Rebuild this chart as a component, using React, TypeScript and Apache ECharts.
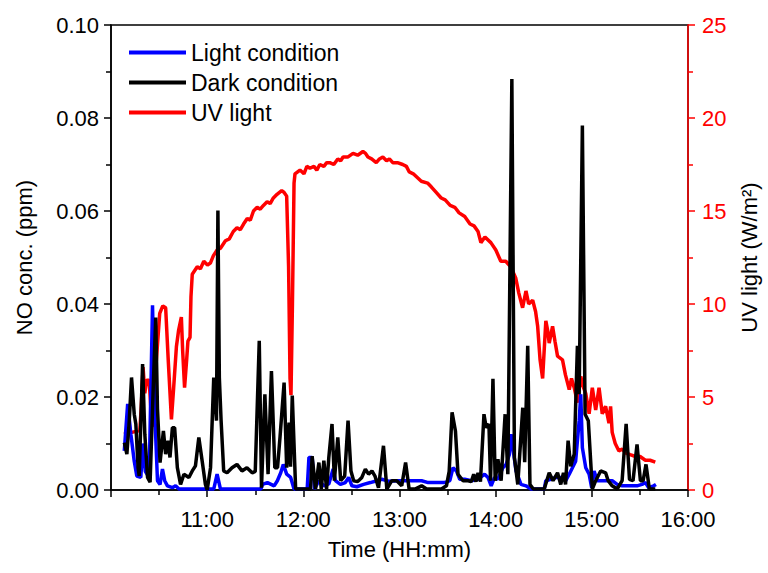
import React, { useEffect, useRef } from "react";
import * as echarts from "echarts";

// Time is given in minutes after 10:00
const uvTime = [8.1, 13.0, 18.0, 18.9, 20.0, 21.1, 22.2, 23.8, 24.8, 26.2, 27.9, 30.4, 32.3, 34.1, 35.7, 37.7, 39.1, 40.8, 42.2, 43.9, 44.7, 45.9, 47.2, 48.0, 49.3, 49.9, 50.7, 53.8, 55.8, 57.9, 60.2, 62.0, 63.9, 66.2, 68.3, 71.4, 73.8, 76.3, 78.6, 80.7, 82.7, 85.0, 86.9, 88.9, 91.2, 93.1, 95.1, 97.4, 99.3, 101.3, 103.6, 106.5, 108.0, 109.6, 110.8, 111.7, 112.3, 113.2, 114.2, 114.8, 117.9, 120.4, 122.2, 124.1, 126.6, 128.4, 130.3, 132.8, 134.6, 136.5, 139.0, 141.5, 143.3, 144.8, 147.7, 151.0, 153.9, 157.2, 158.8, 160.3, 162.6, 165.5, 167.5, 169.6, 171.9, 173.7, 175.8, 178.7, 182.0, 184.3, 186.1, 188.6, 191.1, 193.6, 197.5, 199.8, 202.9, 206.0, 208.5, 211.6, 214.5, 217.2, 220.7, 224.0, 226.5, 229.0, 230.8, 233.3, 237.0, 240.1, 243.2, 246.3, 249.4, 252.5, 254.4, 256.8, 258.9, 260.6, 263.1, 264.9, 266.2, 267.7, 269.3, 271.3, 272.4, 273.4, 275.5, 277.0, 278.6, 281.7, 283.5, 285.9, 287.3, 289.0, 291.0, 293.1, 294.8, 296.2, 298.3, 300.3, 302.4, 304.5, 306.5, 308.6, 310.7, 311.7, 312.7, 314.6, 316.9, 318.9, 321.0, 323.9, 327.2, 330.1, 333.4, 336.3, 339.6];
const uvValue = [3.0, 3.1, 3.2, 4.5, 6.6, 5.2, 5.9, 5.9, 4.5, 3.4, 6.5, 9.5, 9.9, 9.8, 7.0, 3.8, 5.5, 7.7, 8.6, 9.3, 7.5, 5.5, 7.0, 8.0, 8.2, 10.4, 11.6, 12.0, 11.9, 12.3, 12.1, 12.2, 12.6, 12.9, 13.0, 13.4, 13.5, 13.9, 14.1, 14.0, 14.3, 14.6, 14.5, 15.0, 15.2, 15.1, 15.3, 15.5, 15.4, 15.7, 15.9, 16.1, 16.0, 15.8, 12.0, 6.0, 5.1, 10.0, 16.5, 17.0, 17.2, 17.0, 17.4, 17.3, 17.4, 17.2, 17.5, 17.4, 17.6, 17.6, 17.5, 17.8, 17.7, 17.9, 17.9, 18.1, 18.0, 18.2, 18.1, 17.9, 17.8, 17.6, 17.8, 17.9, 17.7, 17.8, 17.6, 17.6, 17.5, 17.4, 17.1, 17.0, 16.8, 16.6, 16.5, 16.3, 16.0, 15.7, 15.6, 15.3, 15.2, 14.9, 14.7, 14.3, 14.2, 13.9, 13.3, 13.6, 13.3, 12.9, 12.3, 12.3, 12.0, 11.4, 10.6, 9.8, 10.7, 10.0, 10.2, 9.6, 8.8, 7.0, 6.0, 9.1, 8.6, 7.9, 8.8, 8.0, 7.2, 7.0, 6.2, 5.4, 6.0, 5.5, 4.7, 6.1, 5.5, 5.2, 4.1, 5.5, 4.3, 5.5, 4.1, 4.5, 3.6, 4.5, 3.1, 2.5, 2.1, 2.2, 2.0, 1.9, 1.8, 1.8, 1.6, 1.6, 1.5];

const darkTime = [8.3, 9.9, 11.4, 12.8, 14.5, 15.5, 16.9, 17.6, 19.7, 21.1, 22.8, 24.4, 26.5, 27.9, 29.0, 30.6, 32.7, 34.1, 35.6, 36.8, 38.3, 39.7, 41.4, 43.4, 45.5, 48.6, 50.7, 52.7, 54.8, 56.9, 58.9, 60.0, 62.1, 64.1, 65.8, 66.7, 67.6, 68.7, 70.3, 72.4, 75.5, 78.6, 81.7, 84.8, 88.1, 90.0, 92.5, 93.9, 96.0, 98.0, 100.1, 102.2, 103.9, 105.5, 108.0, 109.6, 111.1, 112.0, 113.1, 115.2, 124.5, 125.5, 127.6, 129.7, 131.2, 132.8, 134.5, 135.9, 137.9, 139.4, 141.5, 143.3, 145.8, 147.9, 149.7, 151.4, 153.9, 156.5, 158.7, 160.7, 162.8, 164.7, 166.9, 170.0, 172.1, 175.2, 178.3, 181.4, 183.8, 186.0, 189.7, 193.8, 196.9, 206.2, 209.3, 211.0, 212.8, 214.9, 216.5, 219.6, 222.8, 224.8, 226.3, 227.7, 229.0, 230.5, 232.7, 234.1, 235.8, 236.8, 238.3, 239.7, 241.4, 243.4, 245.9, 247.6, 250.1, 251.7, 253.8, 256.9, 258.1, 260.0, 261.4, 263.5, 270.3, 273.4, 275.8, 278.6, 280.6, 282.3, 283.6, 285.2, 286.8, 289.0, 291.0, 292.1, 294.1, 295.8, 297.8, 300.3, 302.4, 305.5, 308.6, 310.2, 312.7, 315.8, 318.9, 321.4, 323.5, 325.7, 328.2, 330.3, 332.0, 333.8, 335.9, 339.6];
const darkNO = [0.0102, 0.0077, 0.0149, 0.0242, 0.0163, 0.0142, 0.0048, 0.003, 0.0271, 0.012, 0.0027, 0.0017, 0.0235, 0.0371, 0.0174, 0.0059, 0.0127, 0.0077, 0.0106, 0.007, 0.0134, 0.0134, 0.0048, 0.0012, 0.0034, 0.0027, 0.0041, 0.0052, 0.0113, 0.0062, 0.0012, 0.0, 0.0048, 0.0242, 0.0149, 0.0601, 0.0242, 0.0149, 0.0041, 0.0037, 0.0048, 0.0055, 0.0041, 0.0048, 0.0037, 0.004, 0.0321, 0.0005, 0.0206, 0.0034, 0.0256, 0.0048, 0.0048, 0.0116, 0.0231, 0.0048, 0.0145, 0.005, 0.0203, 0.0002, 0.0002, 0.0073, 0.0002, 0.0059, 0.0002, 0.0063, 0.0002, 0.007, 0.0142, 0.002, 0.0113, 0.002, 0.003, 0.0149, 0.0041, 0.002, 0.0018, 0.0027, 0.0045, 0.0034, 0.0041, 0.003, 0.0005, 0.0095, 0.0002, 0.002, 0.002, 0.0009, 0.0059, 0.0002, 0.0002, 0.0009, 0.0002, 0.0002, 0.0009, 0.004, 0.0167, 0.0127, 0.0034, 0.002, 0.002, 0.0018, 0.0034, 0.0018, 0.0037, 0.0018, 0.0163, 0.0134, 0.0142, 0.002, 0.0239, 0.002, 0.0066, 0.002, 0.0163, 0.0034, 0.0884, 0.007, 0.0012, 0.0177, 0.006, 0.031, 0.0012, 0.0002, 0.0002, 0.0037, 0.002, 0.0037, 0.0012, 0.0037, 0.0012, 0.0106, 0.0051, 0.0077, 0.031, 0.0206, 0.0784, 0.0163, 0.0149, 0.0002, 0.002, 0.0041, 0.0037, 0.002, 0.0009, 0.0002, 0.002, 0.0142, 0.0023, 0.002, 0.0098, 0.002, 0.002, 0.0055, 0.0002, 0.0002];

const lightTime = [8.3, 10.4, 12.4, 14.5, 16.1, 18.6, 19.9, 21.4, 23.8, 25.9, 27.5, 29.0, 30.6, 32.1, 33.5, 35.2, 38.3, 40.3, 42.4, 64.1, 66.2, 68.3, 93.5, 94.5, 97.6, 101.8, 103.8, 105.9, 107.5, 109.6, 112.1, 114.2, 122.4, 123.5, 125.5, 127.0, 129.7, 132.8, 135.9, 138.6, 140.0, 143.1, 146.2, 148.3, 150.3, 153.4, 157.6, 161.8, 165.9, 169.0, 173.1, 179.3, 187.6, 193.8, 197.9, 208.3, 211.4, 213.4, 215.5, 217.6, 220.7, 224.8, 229.0, 233.1, 235.2, 237.2, 239.3, 241.4, 244.5, 246.5, 248.6, 249.6, 251.3, 252.7, 255.8, 258.9, 262.0, 270.3, 271.3, 274.4, 277.5, 281.7, 283.7, 285.9, 287.9, 289.9, 292.1, 293.1, 294.1, 296.2, 298.3, 299.9, 301.4, 303.4, 309.6, 312.7, 315.8, 318.9, 325.1, 328.2, 331.3, 333.4, 335.5, 338.6, 340.0];
const lightNO = [0.0084, 0.0185, 0.012, 0.0062, 0.003, 0.0027, 0.01, 0.004, 0.0027, 0.0397, 0.0149, 0.002, 0.0012, 0.0045, 0.002, 0.0009, 0.0005, 0.0009, 0.0002, 0.0002, 0.0034, 0.0002, 0.0002, 0.0012, 0.0016, 0.0009, 0.002, 0.0037, 0.0055, 0.0034, 0.0027, 0.0002, 0.0002, 0.007, 0.007, 0.0002, 0.002, 0.0009, 0.0013, 0.0045, 0.002, 0.0012, 0.0016, 0.0027, 0.0009, 0.0007, 0.0012, 0.0016, 0.002, 0.0023, 0.0019, 0.002, 0.002, 0.002, 0.0016, 0.0016, 0.002, 0.0048, 0.0041, 0.0023, 0.0023, 0.002, 0.0023, 0.0034, 0.0027, 0.0009, 0.0027, 0.0023, 0.0048, 0.0055, 0.0077, 0.012, 0.0077, 0.0041, 0.0012, 0.0009, 0.0002, 0.0002, 0.002, 0.0023, 0.0027, 0.0027, 0.002, 0.0034, 0.0048, 0.0062, 0.0149, 0.0206, 0.0091, 0.0048, 0.0034, 0.0005, 0.0041, 0.002, 0.002, 0.002, 0.0012, 0.0009, 0.0009, 0.0009, 0.0012, 0.0016, 0.0005, 0.0009, 0.0012];

const seriesNames = ["Light condition", "Dark condition", "UV light"];

const zip = (t: number[], v: number[]) => t.map((x, i) => [x, v[i]]);

const FONT = "'Liberation Sans', Arial, sans-serif";

export default function App() {
  const ref = useRef<HTMLDivElement>(null);
  useEffect(() => {
    document.body.style.margin = "0";
    const chart = echarts.init(ref.current!, null, { renderer: "svg" });
    const tickLbl = { fontFamily: FONT, fontSize: 22, color: "#000" };
    chart.setOption({
      animation: false,
      backgroundColor: "#fff",
      grid: { left: 111, right: 78, top: 25, bottom: 83, show: true, borderColor: "#000", borderWidth: 1.5, backgroundColor: "transparent" },
      legend: {
        data: seriesNames,
        orient: "vertical",
        left: 124,
        top: 36,
        icon: "rect",
        itemWidth: 57,
        itemHeight: 4,
        itemGap: 7,
        textStyle: { fontFamily: FONT, fontSize: 23, color: "#000", lineHeight: 23 },
      },
      xAxis: {
        type: "value",
        min: 0,
        max: 360,
        interval: 60,
        name: "Time (HH:mm)",
        nameLocation: "middle",
        nameGap: 48,
        nameTextStyle: { fontFamily: FONT, fontSize: 22, color: "#000" },
        axisLine: { lineStyle: { color: "#000", width: 1.5 } },
        axisTick: { length: 7, lineStyle: { color: "#000", width: 1.5 } },
        minorTick: { show: true, splitNumber: 2, length: 5, lineStyle: { color: "#000", width: 1.5 } },
        splitLine: { show: false },
        axisLabel: { ...tickLbl, margin: 18, formatter: (v: number) => (v === 0 ? "" : `${10 + v / 60}:00`) },
      },
      yAxis: [
        {
          type: "value",
          min: 0,
          max: 0.1,
          interval: 0.02,
          position: "left",
          name: "NO conc. (ppm)",
          nameLocation: "middle",
          nameGap: 76,
          nameRotate: 90,
          nameTextStyle: { fontFamily: FONT, fontSize: 22, color: "#000" },
          axisLine: { show: true, lineStyle: { color: "#000", width: 1.5 } },
          axisTick: { show: true, length: 7, lineStyle: { color: "#000", width: 1.5 } },
          minorTick: { show: true, splitNumber: 2, length: 5, lineStyle: { color: "#000", width: 1.5 } },
          splitLine: { show: false },
          axisLabel: { ...tickLbl, margin: 12, formatter: (v: number) => v.toFixed(2) },
        },
        {
          type: "value",
          min: 0,
          max: 25,
          interval: 5,
          position: "right",
          name: "UV light (W/m²)",
          nameLocation: "middle",
          nameGap: 50,
          nameRotate: 90,
          nameTextStyle: { fontFamily: FONT, fontSize: 22, color: "#000" },
          axisLine: { show: true, lineStyle: { color: "#ff0000", width: 1.5 } },
          axisTick: { show: true, length: 7, lineStyle: { color: "#ff0000", width: 1.5 } },
          minorTick: { show: true, splitNumber: 2, length: 5, lineStyle: { color: "#ff0000", width: 1.5 } },
          splitLine: { show: false },
          axisLabel: { ...tickLbl, color: "#ff0000", margin: 14 },
        },
      ],
      series: [
        {
          name: seriesNames[2],
          type: "line",
          yAxisIndex: 1,
          data: zip(uvTime, uvValue),
          showSymbol: false,
          lineStyle: { color: "#ff0000", width: 3.5 },
          itemStyle: { color: "#ff0000" },
          z: 2,
        },
        {
          name: seriesNames[0],
          type: "line",
          yAxisIndex: 0,
          data: zip(lightTime, lightNO),
          showSymbol: false,
          lineStyle: { color: "#0000ff", width: 3.5 },
          itemStyle: { color: "#0000ff" },
          z: 3,
        },
        {
          name: seriesNames[1],
          type: "line",
          yAxisIndex: 0,
          data: zip(darkTime, darkNO),
          showSymbol: false,
          lineStyle: { color: "#000000", width: 3.5 },
          itemStyle: { color: "#000000" },
          z: 4,
        },
      ],
    });
    return () => chart.dispose();
  }, []);
  return <div ref={ref} style={{ width: 768, height: 573 }} />;
}
